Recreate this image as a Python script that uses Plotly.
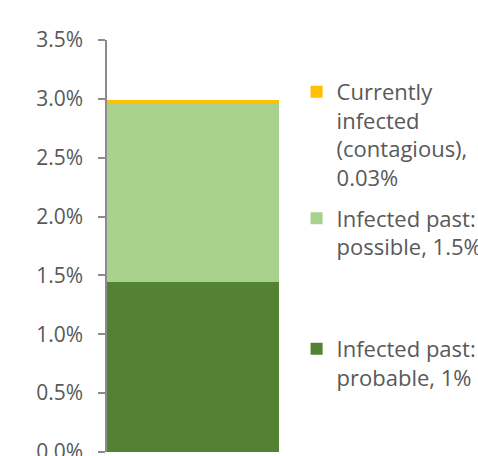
import plotly.graph_objects as go

categories = [0]
probable = [1.44]
possible = [1.52]
current = [0.03]
names = ["Infected past:<br>probable, 1%",
         "Infected past:<br>possible, 1.5%",
         "Currently<br>infected<br>(contagious),<br>0.03%"]
colors = ["#548235", "#A9D18E", "#FFC000"]
tick_vals = [0, 0.5, 1.0, 1.5, 2.0, 2.5, 3.0, 3.5]
tick_text = ["0.0%", "0.5%", "1.0%", "1.5%", "2.0%", "2.5%", "3.0%", "3.5%"]

FONT = "Open Sans"
GREY = "#595959"

fig = go.Figure()
series = [probable, possible, current]
legends = ["legend3", "legend2", "legend"]
for vals, name, col, lg in zip(series, names, colors, legends):
    fig.add_trace(go.Bar(x=categories, y=vals, name=name, marker_color=col,
                         marker_line_width=0, width=1, legend=lg))

leg_common = dict(font=dict(family=FONT, size=22, color=GREY), bgcolor="rgba(0,0,0,0)",
                  borderwidth=0, xanchor="left", yanchor="top", valign="top",
                  itemclick=False, itemdoubleclick=False)
LX = 0.511
fig.update_layout(
    width=478, height=456,
    margin=dict(l=107, r=0, t=40, b=4, autoexpand=False),
    paper_bgcolor="white", plot_bgcolor="white",
    barmode="stack", bargap=0, showlegend=True,
    legend=dict(x=LX, y=0.925, **leg_common),
    legend2=dict(x=LX, y=0.618, **leg_common),
    legend3=dict(x=LX, y=0.301, **leg_common),
    xaxis=dict(range=[-0.5, 1.657], showticklabels=False, showline=False, showgrid=False,
               zeroline=False, ticks=""),
    yaxis=dict(range=[0, 3.5], tickvals=tick_vals, ticktext=tick_text,
               showgrid=False, zeroline=False, showline=True, linecolor="#8C8C8C",
               linewidth=1.5, ticks="outside", ticklen=7, tickcolor="#8C8C8C",
               tickwidth=1.5, ticklabelstandoff=11, ticklabeloverflow="allow",
               tickfont=dict(family=FONT, size=21, color=GREY)),
)
fig.write_html("out.html", config={"displayModeBar": False},
               post_script="document.body.style.margin='0';document.body.style.overflow='hidden';")
